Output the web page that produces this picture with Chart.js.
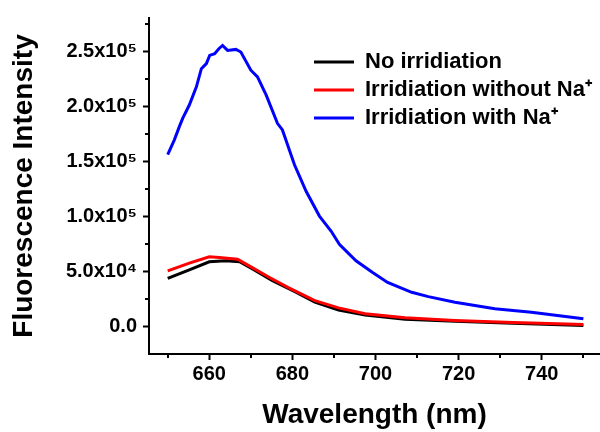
<!DOCTYPE html>
<html>
<head>
<meta charset="utf-8">
<script src="https://cdn.jsdelivr.net/npm/chart.js@4.4.1/dist/chart.umd.min.js"></script>
<style>
  html, body { margin: 0; padding: 0; background: #fff; }
  #wrap { width: 600px; height: 432px; }
</style>
</head>
<body>
<div id="wrap"><canvas id="specChart" width="600" height="432"></canvas></div>
<script>
// values
const seriesNames = ["No irridiation", "Irridiation without Na\u207A", "Irridiation with Na\u207A"];
const seriesColors = ["#000000", "#ff0000", "#0000ff"];

const wlNoIrr = [650, 655.2, 660, 664, 667.3, 670.4, 675.2, 680.6, 685.4, 691.1, 697.5, 707.1, 719.1, 731.2, 750];
const noIrr = [43600, 51400, 58700, 59600, 58700, 52100, 41500, 31500, 22000, 15000, 10500, 6500, 4800, 3200, 900];

const wlIrrNoNa = [650, 655.2, 660, 662.4, 666.8, 669.6, 674.5, 678.9, 685.4, 691.1, 697.5, 707.1, 719.1, 731.2, 750];
const irrNoNa = [50500, 57500, 63200, 62500, 61100, 55000, 44500, 35500, 23500, 16900, 11500, 7800, 5400, 3900, 1800];

const wlIrrNa = [650, 651.6, 652.8, 653.6, 655.2, 656.9, 658.1, 659.3, 660.1, 661.3, 662.3, 663.2, 664.4, 666.4, 667.6,
  670, 671.6, 673.7, 676.4, 677.6, 680.5, 683.3, 686.5, 689.3, 691.3, 695.3, 699.3, 702.9,
  708.7, 712.7, 719.1, 728.7, 737.5, 750];
const irrNa = [155900, 169400, 181400, 188900, 201000, 217500, 234000, 238600, 246100, 247600, 252100, 255100, 250600, 251500, 249100,
  232600, 226500, 210000, 184400, 178400, 146800, 122700, 100200, 86600, 74600, 59600, 49000, 40000,
  31000, 27100, 21900, 16000, 12900, 6900];

const xMajor = [660, 680, 700, 720, 740];
const xMinor = [650, 670, 690, 710, 730, 750];
const yMajor = [0, 50000, 100000, 150000, 200000, 250000];
const yMinor = [25000, 75000, 125000, 175000, 225000, 275000];

const sup = { "4": "\u2074", "5": "\u2075" };
function yLabel(v) {
  if (v === 0) return "0.0";
  const e = Math.floor(Math.log10(v));
  const m = v / Math.pow(10, e);
  return m.toFixed(1) + "x10" + sup[e];
}

function pts(xs, ys) {
  return xs.map((x, i) => ({ x: x, y: ys[i] }));
}

const allData = [pts(wlNoIrr, noIrr), pts(wlIrrNoNa, irrNoNa), pts(wlIrrNa, irrNa)];
const drawOrder = [3, 2, 1];

// short minor ticks, and the legend moved inside the plot
const extras = {
  id: "extras",
  afterLayout(chart) {
    chart.legend.left = 308;
    chart.legend.top = 45;
  },
  afterDraw(chart) {
    const ctx = chart.ctx;
    const xs = chart.scales.x, ys = chart.scales.y;
    const area = chart.chartArea;
    ctx.save();
    ctx.strokeStyle = "#000";
    ctx.lineWidth = 2;
    ctx.beginPath();
    yMinor.forEach(v => {
      const py = Math.round(ys.getPixelForValue(v));
      ctx.moveTo(area.left - 4, py);
      ctx.lineTo(area.left, py);
    });
    xMinor.forEach(v => {
      const px = Math.round(xs.getPixelForValue(v));
      ctx.moveTo(px, area.bottom);
      ctx.lineTo(px, area.bottom + 4);
    });
    ctx.stroke();
    ctx.restore();
  }
};

const ctx = document.getElementById("specChart").getContext("2d");
new Chart(ctx, {
  type: "line",
  data: {
    datasets: seriesNames.map((name, i) => ({
      label: name,
      data: allData[i],
      borderColor: seriesColors[i],
      backgroundColor: seriesColors[i],
      borderWidth: 3,
      pointRadius: 0,
      tension: 0,
      order: drawOrder[i]
    }))
  },
  options: {
    responsive: false,
    animation: false,
    layout: { padding: { top: 16, right: 0, left: 0, bottom: 0 } },
    plugins: {
      tooltip: { enabled: false },
      legend: {
        position: "chartArea",
        align: "start",
        labels: {
          boxWidth: 40,
          boxHeight: 0,
          padding: 6,
          color: "#000",
          font: { family: "Liberation Sans, Arial", size: 22, weight: "bold" },
          sort: (a, b) => a.datasetIndex - b.datasetIndex
        }
      }
    },
    scales: {
      x: {
        type: "linear",
        min: 645.5,
        max: 754,
        afterBuildTicks: s => { s.ticks = xMajor.map(v => ({ value: v })); },
        afterFit: s => { s.height = 78; },
        border: { display: true, color: "#000", width: 2 },
        grid: { display: true, drawOnChartArea: false, drawTicks: true, tickLength: 6, tickWidth: 2, tickColor: "#000" },
        ticks: {
          color: "#000",
          padding: 2,
          maxRotation: 0,
          autoSkip: false,
          font: { family: "Liberation Sans, Arial", size: 20, weight: "bold" }
        },
        title: {
          display: true,
          text: "Wavelength (nm)",
          color: "#000",
          padding: { top: 0, bottom: 0 },
          font: { family: "Liberation Sans, Arial", size: 28, weight: "bold" }
        }
      },
      y: {
        type: "linear",
        min: -25000,
        max: 280000,
        afterBuildTicks: s => { s.ticks = yMajor.map(v => ({ value: v })); },
        afterFit: s => { s.width = 149; },
        border: { display: true, color: "#000", width: 2 },
        grid: { display: true, drawOnChartArea: false, drawTicks: true, tickLength: 6, tickWidth: 2, tickColor: "#000" },
        ticks: {
          color: "#000",
          padding: 6,
          autoSkip: false,
          callback: v => yLabel(v),
          font: { family: "Liberation Sans, Arial", size: 20, weight: "bold" }
        },
        title: {
          display: true,
          text: "Fluorescence Intensity",
          color: "#000",
          padding: { top: 7, bottom: 0 },
          font: { family: "Liberation Sans, Arial", size: 28, weight: "bold" }
        }
      }
    }
  },
  plugins: [extras]
});
</script>
</body>
</html>
